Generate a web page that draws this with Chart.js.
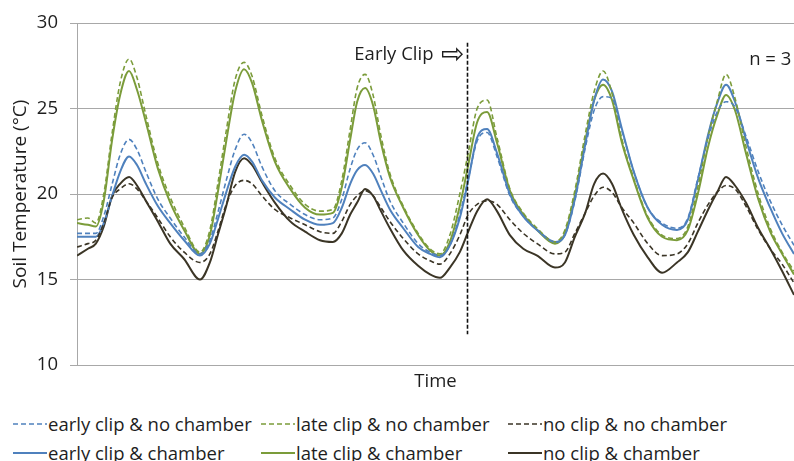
<!DOCTYPE html>
<html><head><meta charset="utf-8">
<script src="https://cdn.jsdelivr.net/npm/chart.js@4.4.1/dist/chart.umd.min.js"></script>
<style>
html,body{margin:0;padding:0;background:#fff;width:794px;height:461px;overflow:hidden;font-family:"Open Sans","DejaVu Sans",sans-serif;}
#wrap{position:relative;width:794px;height:400px;}
#legend{position:absolute;left:13px;top:409px;display:grid;grid-template-columns:248px 247px 240px;grid-auto-rows:29px;}
.item{display:flex;align-items:center;font-size:18.5px;color:#1e1e1e;white-space:nowrap;}
.item svg{margin-right:1px;flex:none;}
</style></head>
<body>
<div id="wrap"><canvas id="c" width="794" height="400"></canvas></div>
<div id="legend"></div>
<script>
// time of each reading (hours since start)
const hours = [0,2.2,3.8,5.4,7.1,8.7,10.5,12.1,13.9,16.3,18.8,21.6,24.8,26.8,28.4,30.1,31.9,33.7,35.3,37.3,39.9,43.0,46.0,49.0,51.6,53.4,55.1,56.5,58.1,59.7,61.3,63.1,65.8,68.8,71.2,73.2,75.2,77.2,78.9,80.7,82.7,84.7,87.3,90.0,92.8,96.4,98.4,100.4,102.5,104.3,106.1,107.9,109.9,112.3,115.1,118.0,121.0,123.2,125.2,127.3,129.1,130.9,132.7,134.9,137.4,139.8,142.2,144.6];

const earlyClipNoChamber = [17.7,17.7,17.7,18.7,20.6,22.3,23.2,22.6,21.3,19.7, 18.6,17.5,16.5,17.3,18.9,20.8,22.6,23.5,23.0,21.6, 20.2,19.4,18.8,18.5,18.6,19.7,21.5,22.6,23.0,22.3, 21.0,19.6,18.3,17.1,16.6,16.4,17.0,18.8,20.9,23.1, 23.6,22.2,19.9,18.7,17.9,17.2,17.6,19.6,22.7,24.9, 25.7,25.6,23.7,21.3,19.2,18.3,18.0,18.6,20.9,23.3, 24.8,25.4,25.1,23.4,21.3,19.6,18.2,17.0];
const lateClipNoChamber = [18.5,18.6,18.3,20.0,23.6,26.5,27.9,26.8,24.6,21.8, 19.8,18.1,16.6,17.9,20.6,23.7,26.7,27.7,26.9,24.6, 22.1,20.5,19.4,19.0,19.1,20.8,23.8,26.2,27.0,25.8, 23.4,21.2,19.3,17.7,16.8,16.5,17.6,20.0,22.4,25.0, 25.5,23.3,20.3,18.9,18.0,17.2,17.9,20.2,23.5,26.0, 27.2,25.9,23.2,20.9,18.7,17.6,17.4,18.1,20.4,23.4, 25.4,27.0,25.6,22.8,20.0,18.0,16.6,15.5];
const noClipNoChamber = [16.9,17.1,17.3,18.3,19.8,20.3,20.6,20.3,19.6,18.6, 17.5,16.6,16.0,16.5,17.8,19.4,20.5,20.8,20.6,19.9, 19.1,18.6,18.2,17.8,17.7,18.4,19.4,19.9,20.2,19.9, 19.2,18.4,17.4,16.5,16.1,15.9,16.5,17.6,18.8,19.4, 19.6,19.4,18.5,17.7,17.1,16.5,16.6,17.7,18.9,19.9, 20.4,20.1,19.2,18.3,17.1,16.4,16.5,17.1,18.3,19.4, 20.1,20.5,20.3,19.3,17.9,16.8,15.9,14.8];
const earlyClipChamber = [17.5,17.5,17.5,18.3,19.9,21.3,22.2,21.7,20.6,19.3, 18.3,17.3,16.4,17.1,18.5,20.1,21.6,22.3,21.9,20.8, 19.8,19.1,18.5,18.2,18.3,19.2,20.6,21.4,21.7,21.2, 20.2,19.1,18.0,16.9,16.5,16.3,17.0,18.6,20.8,23.3, 23.8,22.4,20.0,18.7,17.9,17.2,17.6,19.7,22.9,25.5, 26.7,26.0,23.8,21.3,19.2,18.2,17.9,18.5,20.8,23.5, 25.3,26.4,25.4,23.2,20.9,19.2,17.7,16.5];
const lateClipChamber = [18.3,18.2,18.1,19.6,23.2,25.8,27.2,26.1,24.2,21.5, 19.5,17.9,16.5,17.6,20.1,23.1,26.0,27.3,26.5,24.3, 21.9,20.3,19.2,18.8,18.9,20.4,23.2,25.4,26.2,25.2, 23.0,21.0,19.2,17.6,16.7,16.4,17.2,19.3,21.7,24.2, 24.8,23.0,20.2,18.8,17.9,17.1,17.7,19.9,23.1,25.5, 26.4,25.5,23.0,20.8,18.6,17.5,17.3,17.9,20.0,22.8, 24.6,25.8,24.9,22.4,19.7,17.8,16.5,15.3];
const noClipChamber = [16.4,16.8,17.1,18.1,19.9,20.6,21.0,20.5,19.6,18.4, 17.1,16.2,15.0,16.0,17.6,19.3,21.3,22.1,21.7,20.7, 19.5,18.4,17.8,17.3,17.2,17.7,18.8,19.5,20.3,19.9, 19.0,18.0,16.7,15.8,15.3,15.1,15.7,16.6,17.8,19.0, 19.7,19.0,17.6,16.8,16.4,15.7,16.0,17.5,18.9,20.6, 21.2,20.6,19.1,17.6,16.3,15.4,16.0,16.6,17.8,19.1, 20.1,21.0,20.5,19.5,18.0,16.8,15.5,14.1];

const seriesNames = ['early clip & no chamber','late clip & no chamber','no clip & no chamber','early clip & chamber','late clip & chamber','no clip & chamber'];
const yTicks = [10,15,20,25,30];
const clipHour = 78.6;

const FONT = '"Open Sans"';
const BLUE='#4f81bd', GREEN='#7b9c3a', DARK='#3b3526';
const seriesData = [earlyClipNoChamber,lateClipNoChamber,noClipNoChamber,earlyClipChamber,lateClipChamber,noClipChamber];
const styles = [
  {c:BLUE,dash:[5,3],w:1.6},{c:GREEN,dash:[5,3],w:1.6},{c:DARK,dash:[5,3],w:1.6},
  {c:BLUE,dash:[],w:2},{c:GREEN,dash:[],w:2},{c:DARK,dash:[],w:2}
];
const datasets = seriesData.map((arr,i)=>({
  label: seriesNames[i],
  data: hours.map((h,k)=>({x:h,y:arr[k]})),
  borderColor: styles[i].c, borderDash: styles[i].dash, borderWidth: styles[i].w,
  pointRadius:0, fill:false, cubicInterpolationMode:'monotone'
}));

const annotate = {
  id:'annotate',
  afterDatasetsDraw(chart){
    const {ctx, scales:{x,y}} = chart;
    const cx = Math.round(x.getPixelForValue(clipHour))+0.5;
    ctx.save();
    ctx.strokeStyle='#111'; ctx.lineWidth=1.6; ctx.setLineDash([4,2]);
    ctx.beginPath(); ctx.moveTo(cx, y.getPixelForValue(28.85)); ctx.lineTo(cx, y.getPixelForValue(11.8)); ctx.stroke();
    ctx.setLineDash([]);
    ctx.fillStyle='#1e1e1e'; ctx.textBaseline='middle';
    const ly = y.getPixelForValue(28.15);
    ctx.font='28px "DejaVu Sans"'; ctx.textAlign='right';
    ctx.fillText('⇨', cx-3, ly+1);
    ctx.font='18.5px '+FONT;
    ctx.fillText('Early Clip', cx-34, ly);
    ctx.textAlign='center';
    ctx.fillText('n = 3', x.getPixelForValue(139.8), y.getPixelForValue(27.85));
    ctx.restore();
  }
};

new Chart(document.getElementById('c'), {
  type:'line',
  data:{datasets},
  plugins:[annotate],
  options:{
    responsive:false, animation:false, devicePixelRatio:1,
    layout:{padding:{top:20,right:0,left:0,bottom:0}},
    plugins:{legend:{display:false}, tooltip:{enabled:false}},
    scales:{
      x:{type:'linear', min:0, max:144.6,
        grid:{display:false}, border:{display:true,color:'#a8a8a8',width:1},
        ticks:{display:false},
        title:{display:true,text:'Time',color:'#1e1e1e',font:{family:FONT,size:18.5},padding:{top:0,bottom:7}},
        afterFit(s){s.height=35;}
      },
      y:{min:10,max:30,
        afterBuildTicks(s){s.ticks=yTicks.map(v=>({value:v}));},
        grid:{color:'#a8a8a8',tickLength:7,drawTicks:true},
        border:{display:true,color:'#a8a8a8',width:1},
        ticks:{color:'#1e1e1e',font:{family:FONT,size:18.5},padding:12},
        title:{display:true,text:'Soil Temperature (°C)',color:'#1e1e1e',font:{family:FONT,size:19},padding:{top:9,bottom:0}},
        afterFit(s){s.width=77;}
      }
    }
  }
});

// legend (two rows, three columns)
const legend=document.getElementById('legend');
styles.forEach((s,i)=>{
  const d=document.createElement('div'); d.className='item';
  d.innerHTML=`<svg width="34" height="6"><line x1="0" y1="3" x2="34" y2="3" stroke="${s.c}" stroke-width="${s.w}" ${s.dash.length?`stroke-dasharray="${s.dash.join(',')}"`:''}/></svg><span>${seriesNames[i]}</span>`;
  legend.appendChild(d);
});
</script>
</body></html>
